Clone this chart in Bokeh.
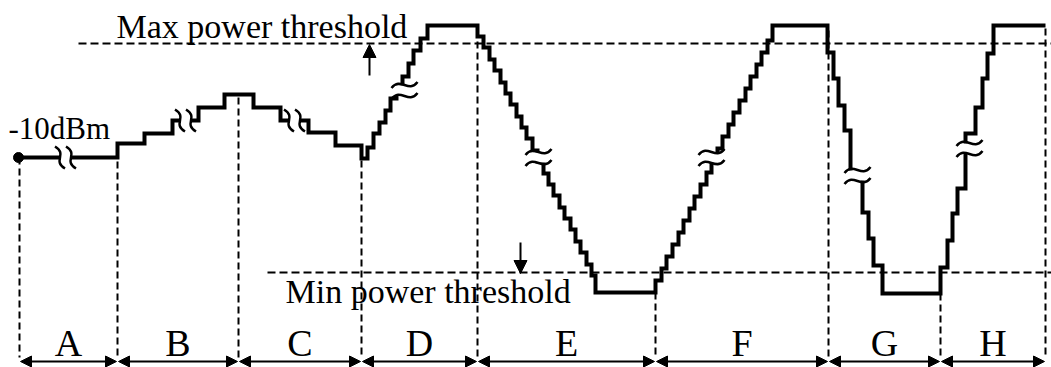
from bokeh.plotting import figure
from bokeh.models import Range1d, Arrow, NormalHead
from bokeh.core.properties import value
from bokeh.embed import file_html
from bokeh.resources import INLINE

# ---- data (time position, power level in drawing units; higher = more power) ----
bounds = [19, 117, 238, 361, 477, 655, 828, 940, 1045]
bound_top = [210, 217, 270, 207, 337, 75, 337, 74, 339]
seg_labels = ["A", "B", "C", "D", "E", "F", "G", "H"]

trace_t = [19, 117, 144, 172, 198, 224, 253, 280, 308, 335, 361, 367, 373, 379, 385, 390, 396, 402, 408, 413, 420, 427,
           477, 483, 489, 494, 500, 505, 510, 516, 521, 526, 532, 537, 543, 548, 553, 559, 564, 570, 575, 580, 586, 591, 595,
           655, 661, 666, 672, 678, 683, 689, 694, 700, 706, 711, 717, 722, 728, 733, 739, 745, 750, 756, 761, 767, 772,
           827, 833, 838, 844, 850, 862, 868, 873, 882,
           940, 947, 952, 957, 965, 975, 982, 987, 993, 1045]
trace_p = [210, 224, 234, 247, 260, 273, 260, 247, 235, 222, 209, 220, 234, 245, 257, 269, 280, 291, 304, 317, 329, 342,
           331, 320, 308, 297, 285, 274, 263, 251, 240, 229, 217, 206, 194, 183, 172, 160, 149, 138, 126, 115, 103, 92, 75,
           87, 99, 111, 123, 135, 147, 159, 171, 183, 195, 207, 219, 231, 243, 255, 267, 279, 291, 303, 315, 327, 342,
           315, 289, 262, 237, 192, 155, 129, 102, 74,
           100, 127, 154, 179, 234, 260, 289, 314, 342, 342]

brk_x = [65, 185, 294, 404, 538, 711, 857, 969]
brk_p = [210, 247, 247, 277, 210, 210, 192, 219]
brk_dir = ["v", "v", "v", "h", "h", "h", "h", "h"]

max_p, max_x0 = 324, 78
min_p, min_x0 = 95, 267
line_end = 1051
max_arrow = (369, 292, 323)   # x, from, to
min_arrow = (520, 125, 94)

start_p = 210
start_label = "-10dBm"
max_label = "Max power threshold"
min_label = "Min power threshold"

# ---- figure ----
p = figure(width=1051, height=367, x_range=Range1d(0, 1051), y_range=Range1d(0, 367),
           output_backend="svg", toolbar_location=None, x_axis_type=None, y_axis_type=None,
           min_border=0, min_border_left=0, min_border_right=0, min_border_top=0, min_border_bottom=0)
p.grid.visible = False
p.outline_line_color = None
p.background_fill_color = "white"

FONT = value("Liberation Serif")

# dashed vertical segment boundaries
p.segment(x0=bounds, y0=bound_top, x1=bounds, y1=[10] * len(bounds),
          line_color="black", line_width=2, line_dash="7 4")

# threshold lines
p.segment(x0=[max_x0, min_x0], y0=[max_p, min_p], x1=[line_end, line_end], y1=[max_p, min_p],
          line_color="black", line_width=2, line_dash="8 4")

# power trace
p.step(trace_t, trace_p, mode="after", line_color="black", line_width=4, line_join="miter")
p.scatter([trace_t[0] - 1], [start_p], size=10, color="black")

# break symbols
for bx, by, d in zip(brk_x, brk_p, brk_dir):
    if d == "v":
        p.rect(x=[bx], y=[by], width=10, height=26, fill_color="white", line_color=None)
        for o in (-5.5, 5.5):
            p.bezier(x0=[bx + o - 5], y0=[by + 11], x1=[bx + o + 5], y1=[by - 11],
                     cx0=[bx + o + 8], cy0=[by + 3], cx1=[bx + o - 8], cy1=[by - 3],
                     line_color="black", line_width=2.5)
    else:
        p.rect(x=[bx], y=[by], width=28, height=10, fill_color="white", line_color=None)
        for o in (-5.5, 5.5):
            p.bezier(x0=[bx - 13], y0=[by + o - 3], x1=[bx + 13], y1=[by + o + 3],
                     cx0=[bx - 4], cy0=[by + o + 9], cx1=[bx + 4], cy1=[by + o - 9],
                     line_color="black", line_width=2.5)

# threshold arrows
for ax, a0, a1 in (max_arrow, min_arrow):
    p.add_layout(Arrow(end=NormalHead(size=13, fill_color="black", line_color="black"),
                       x_start=ax, y_start=a0, x_end=ax, y_end=a1,
                       line_color="black", line_width=2))

# segment double arrows
for i in range(len(seg_labels)):
    p.add_layout(Arrow(start=NormalHead(size=11, fill_color="black", line_color="black"),
                       end=NormalHead(size=11, fill_color="black", line_color="black"),
                       x_start=bounds[i] + 1, y_start=6, x_end=bounds[i + 1] - 1, y_end=6,
                       line_color="black", line_width=2))

mids = [(bounds[i] + bounds[i + 1]) / 2 for i in range(len(seg_labels))]
p.text(x=mids, y=[25] * len(mids), text=seg_labels, text_font=FONT, text_font_size="38px",
       text_align="center", text_baseline="alphabetic", text_color="black")

p.text(x=[116], y=[341], text=[max_label], text_font=FONT, text_font_size="34px",
       text_align="left", text_baseline="alphabetic", text_color="black")
p.text(x=[285], y=[76], text=[min_label], text_font=FONT, text_font_size="34px",
       text_align="left", text_baseline="alphabetic", text_color="black")
p.text(x=[8], y=[239], text=[start_label], text_font=FONT, text_font_size="31px",
       text_align="left", text_baseline="alphabetic", text_color="black")

open("out.html", "w").write(file_html(p, INLINE))
